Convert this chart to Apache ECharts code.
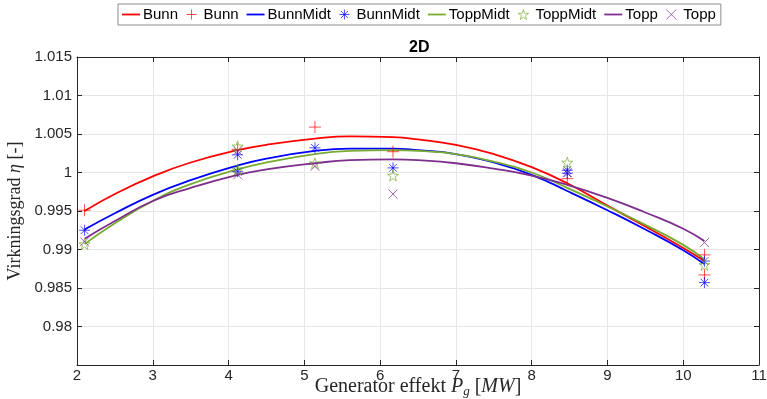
<!DOCTYPE html>
<html>
<head>
<meta charset="utf-8">
<script src="https://cdn.jsdelivr.net/npm/echarts@6/dist/echarts.min.js"></script>
<style>html,body{margin:0;padding:0;background:#fff;}#c{width:767px;height:399px;}</style>
</head>
<body>
<div id="c"></div>
<script>
// ---- data ----
const fitX = [2.1, 2.5, 3, 3.5, 4.12, 4.5, 5.14, 5.6, 6.17, 6.5, 7, 7.5, 8, 8.47, 9, 9.5, 10, 10.28];
const bunnFit     = [0.9950, 0.9972, 0.9995, 1.0013, 1.0029, 1.0036, 1.0044, 1.0047, 1.0046, 1.0043, 1.0036, 1.0024, 1.0007, 0.9986, 0.9957, 0.9930, 0.9902, 0.9885];
const bunnMidtFit = [0.9926, 0.9947, 0.9971, 0.9990, 1.0009, 1.0018, 1.0028, 1.0031, 1.0031, 1.0029, 1.0024, 1.0013, 0.9997, 0.9976, 0.9951, 0.9926, 0.9899, 0.9881];
const toppMidtFit = [0.9907, 0.9934, 0.9963, 0.9985, 1.0004, 1.0013, 1.0024, 1.0028, 1.0029, 1.0028, 1.0024, 1.0014, 1.0000, 0.9980, 0.9956, 0.9932, 0.9906, 0.9887];
const toppFit     = [0.9914, 0.9937, 0.9963, 0.9980, 0.9997, 1.0004, 1.0012, 1.0016, 1.0017, 1.0016, 1.0012, 1.0005, 0.9996, 0.9984, 0.9967, 0.9948, 0.9927, 0.9911];

const bunnPtsX     = [2.1, 4.12, 5.14, 6.17, 8.47, 10.28, 10.28];
const bunnPtsY     = [0.9951, 1.0030, 1.0059, 1.0027, 0.9992, 0.9893, 0.9867];
const bunnMidtPtsX = [2.1, 4.12, 4.12, 5.14, 6.17, 8.47, 8.47, 10.28, 10.28];
const bunnMidtPtsY = [0.9925, 1.0023, 1.0001, 1.0032, 1.0006, 1.0003, 0.9999, 0.9885, 0.9857];
const toppMidtPtsX = [2.1, 4.12, 4.12, 5.14, 6.17, 8.47, 10.28];
const toppMidtPtsY = [0.9907, 1.0034, 1.0004, 1.0012, 0.9996, 1.0013, 0.9880];
const toppPtsX     = [2.1, 4.12, 4.12, 5.14, 6.17, 8.47, 10.28];
const toppPtsY     = [0.9910, 1.0028, 0.9997, 1.0008, 0.9972, 1.0000, 0.9909];

const seriesNames = ['Bunn', 'BunnMidt', 'ToppMidt', 'Topp'];
const xTicks = [2, 3, 4, 5, 6, 7, 8, 9, 10, 11];
const yTicks = [0.98, 0.985, 0.99, 0.995, 1, 1.005, 1.01, 1.015];

// ---- styling ----
const colors = ['#ff0000', '#0000ff', '#77ac30', '#7e2f8e'];
const SYM_PLUS = 'path://M5,0L5,10M0,5L10,5';
const SYM_AST = 'path://M5,0L5,10M0,5L10,5M1.5,1.5L8.5,8.5M1.5,8.5L8.5,1.5';
const SYM_STAR = 'path://M5,0L6.123,3.455L9.755,3.455L6.816,5.59L7.939,9.045L5,6.91L2.061,9.045L3.184,5.59L0.245,3.455L3.877,3.455Z';
const SYM_X = 'path://M0,0L10,10M0,10L10,0';
const LINE_ICON = 'path://M0,0L18,0L18,1.8L0,1.8Z';
const symbols = [SYM_PLUS, SYM_AST, SYM_STAR, SYM_X];
const symSizes = [12, 11, 11, 9];

const fits = [bunnFit, bunnMidtFit, toppMidtFit, toppFit];
const ptsX = [bunnPtsX, bunnMidtPtsX, toppMidtPtsX, toppPtsX];
const ptsY = [bunnPtsY, bunnMidtPtsY, toppMidtPtsY, toppPtsY];

const ZW = '\u200b';
const series = [];
const legendData = [];
seriesNames.forEach((nm, i) => {
  series.push({
    name: nm, type: 'line', smooth: 0.5, symbol: 'none',
    data: fitX.map((x, k) => [x, fits[i][k]]),
    lineStyle: {color: colors[i], width: 1.8},
    itemStyle: {color: colors[i]},
    z: 2
  });
  series.push({
    name: nm + ZW, type: 'scatter', symbol: symbols[i], symbolSize: symSizes[i],
    data: ptsX[i].map((x, k) => [x, ptsY[i][k]]),
    itemStyle: {color: 'rgba(0,0,0,0)', borderColor: colors[i], borderWidth: 1, opacity: 0.7},
    z: 3
  });
  legendData.push({name: nm, icon: LINE_ICON, itemStyle: {color: colors[i]}});
  legendData.push({name: nm + ZW, icon: symbols[i],
    itemStyle: {color: 'rgba(0,0,0,0)', borderColor: colors[i], borderWidth: 1, opacity: 0.7}});
});

const chart = echarts.init(document.getElementById('c'), null, {renderer: 'canvas'});
const axisColor = '#262626';
chart.setOption({
  animation: false,
  backgroundColor: '#ffffff',
  textStyle: {fontFamily: 'Liberation Sans, Arial, sans-serif'},
  title: {
    text: '2D', left: 404, top: 35,
    textStyle: {fontSize: 16, fontWeight: 'bold', color: '#000', fontFamily: 'Liberation Sans, Arial, sans-serif'}
  },
  legend: {
    data: legendData,
    left: 118, top: 4,
    itemWidth: 18, itemHeight: 10, itemGap: 8, symbolKeepAspect: true,
    padding: [3, 5, 3, 4],
    borderColor: '#8c8c8c', borderWidth: 1, backgroundColor: '#fff',
    formatter: n => n.replace(ZW, ''),
    textStyle: {fontSize: 15, color: '#000', padding: [0, 0, 0, -2]}
  },
  grid: {left: 77, right: 8, top: 57, bottom: 34, containLabel: false, outerBoundsMode: 'none'},
  xAxis: [{
    type: 'value', min: 2, max: 11, interval: 1, position: 'bottom',
    name: 'Generator effekt {i|P}{sub|g} [{i|MW}]',
    nameLocation: 'middle', nameGap: 11, nameMoveOverlap: false,
    nameTextStyle: {
      fontFamily: 'Liberation Serif, DejaVu Serif, serif', fontSize: 20, color: '#262626', verticalAlign: 'top',
      rich: {
        i: {fontFamily: 'Liberation Serif, serif', fontStyle: 'italic', fontSize: 20, color: '#262626'},
        sub: {fontFamily: 'Liberation Serif, serif', fontStyle: 'italic', fontSize: 13, color: '#262626', padding: [9, 0, 0, 0]}
      }
    },
    axisLine: {show: true, onZero: false, lineStyle: {color: axisColor, width: 1}},
    axisTick: {show: true, inside: true, length: 5, lineStyle: {color: axisColor}},
    axisLabel: {color: axisColor, fontSize: 15, margin: 3,
      formatter: v => xTicks.indexOf(Math.round(v * 1000) / 1000) >= 0 ? String(Math.round(v)) : ''},
    splitLine: {show: true, lineStyle: {color: '#e6e6e6', width: 1}}
  }, {
    type: 'value', min: 2, max: 11, interval: 1, position: 'top',
    axisLine: {show: true, onZero: false, lineStyle: {color: axisColor, width: 1}},
    axisTick: {show: true, inside: true, length: 5, lineStyle: {color: axisColor}},
    axisLabel: {show: false}, splitLine: {show: false}
  }],
  yAxis: [{
    type: 'value', min: 0.975, max: 1.015, interval: 0.005, position: 'left',
    name: 'Virkningsgrad {i|η} [-]',
    nameLocation: 'middle', nameGap: 53, nameRotate: 90, nameMoveOverlap: false,
    nameTextStyle: {
      fontFamily: 'Liberation Serif, DejaVu Serif, serif', fontSize: 18, color: '#262626',
      rich: {i: {fontFamily: 'Liberation Serif, serif', fontStyle: 'italic', fontSize: 18, color: '#262626'}}
    },
    axisLine: {show: true, onZero: false, lineStyle: {color: axisColor, width: 1}},
    axisTick: {show: true, inside: true, length: 5, lineStyle: {color: axisColor}},
    axisLabel: {color: axisColor, fontSize: 15, margin: 5,
      formatter: v => {
        const r = Math.round(v * 1000) / 1000;
        return yTicks.indexOf(r) >= 0 ? String(r) : '';
      }},
    splitLine: {show: true, lineStyle: {color: '#e6e6e6', width: 1}}
  }, {
    type: 'value', min: 0.975, max: 1.015, interval: 0.005, position: 'right',
    axisLine: {show: true, onZero: false, lineStyle: {color: axisColor, width: 1}},
    axisTick: {show: true, inside: true, length: 5, lineStyle: {color: axisColor}},
    axisLabel: {show: false}, splitLine: {show: false}
  }],
  series: series
});
</script>
</body>
</html>
